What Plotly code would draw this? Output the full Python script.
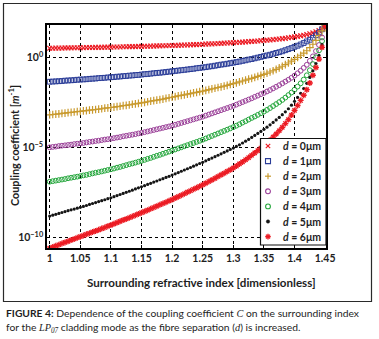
import math
import plotly.graph_objects as go

# ---------------- data ----------------
# surrounding refractive index sample grid (step 0.005 from 1.00 to 1.45)
n_index = [round(1.0 + 0.005 * i, 3) for i in range(91)]

separations_um = [0, 1, 2, 3, 4, 5, 6]

# log10 of the coupling coefficient C [m^-1], one list per fibre separation d
log10_C_d0 = [0.50, 0.50, 0.51, 0.51, 0.51, 0.52, 0.52, 0.52, 0.53, 0.53,
              0.53, 0.53, 0.54, 0.54, 0.54, 0.55, 0.55, 0.55, 0.56, 0.56,
              0.56, 0.57, 0.57, 0.57, 0.58, 0.58, 0.59, 0.59, 0.59, 0.60,
              0.60, 0.61, 0.61, 0.62, 0.62, 0.63, 0.63, 0.64, 0.64, 0.65,
              0.65, 0.66, 0.66, 0.67, 0.68, 0.68, 0.69, 0.70, 0.70, 0.71,
              0.72, 0.73, 0.74, 0.74, 0.75, 0.76, 0.77, 0.78, 0.79, 0.80,
              0.81, 0.82, 0.83, 0.84, 0.85, 0.87, 0.88, 0.89, 0.90, 0.92,
              0.93, 0.95, 0.96, 0.98, 1.00, 1.01, 1.03, 1.05, 1.08, 1.10,
              1.13, 1.16, 1.19, 1.22, 1.26, 1.30, 1.35, 1.41, 1.48, 1.58,
              1.78]
log10_C_d1 = [-1.36, -1.35, -1.34, -1.33, -1.32, -1.30, -1.29, -1.28, -1.27, -1.25,
              -1.24, -1.23, -1.22, -1.20, -1.19, -1.18, -1.16, -1.15, -1.14, -1.12,
              -1.11, -1.10, -1.08, -1.07, -1.05, -1.04, -1.02, -1.01, -0.99, -0.98,
              -0.96, -0.94, -0.93, -0.91, -0.89, -0.87, -0.86, -0.84, -0.82, -0.80,
              -0.78, -0.76, -0.74, -0.72, -0.70, -0.68, -0.66, -0.64, -0.61, -0.59,
              -0.57, -0.55, -0.52, -0.50, -0.47, -0.44, -0.41, -0.39, -0.36, -0.33,
              -0.30, -0.27, -0.24, -0.20, -0.17, -0.13, -0.10, -0.06, -0.02, 0.02,
              0.06, 0.10, 0.14, 0.19, 0.24, 0.28, 0.33, 0.39, 0.45, 0.51,
              0.58, 0.64, 0.71, 0.79, 0.88, 0.97, 1.08, 1.22, 1.38, 1.55,
              1.76]
log10_C_d2 = [-3.20, -3.18, -3.16, -3.14, -3.12, -3.10, -3.08, -3.06, -3.04, -3.02,
              -3.00, -2.98, -2.96, -2.94, -2.92, -2.90, -2.88, -2.86, -2.83, -2.81,
              -2.79, -2.77, -2.74, -2.72, -2.69, -2.67, -2.64, -2.61, -2.59, -2.56,
              -2.53, -2.50, -2.47, -2.44, -2.41, -2.38, -2.35, -2.32, -2.28, -2.25,
              -2.22, -2.19, -2.15, -2.12, -2.09, -2.05, -2.02, -1.98, -1.95, -1.91,
              -1.88, -1.84, -1.80, -1.76, -1.72, -1.68, -1.64, -1.60, -1.56, -1.51,
              -1.47, -1.42, -1.37, -1.32, -1.27, -1.22, -1.17, -1.12, -1.06, -1.01,
              -0.95, -0.89, -0.82, -0.75, -0.67, -0.59, -0.50, -0.41, -0.32, -0.22,
              -0.12, -0.01, 0.11, 0.23, 0.36, 0.53, 0.72, 0.94, 1.20, 1.46,
              1.75]
log10_C_d3 = [-5.00, -4.98, -4.96, -4.93, -4.91, -4.89, -4.87, -4.85, -4.82, -4.80,
              -4.78, -4.76, -4.73, -4.70, -4.68, -4.65, -4.63, -4.60, -4.57, -4.55,
              -4.52, -4.49, -4.46, -4.43, -4.39, -4.36, -4.33, -4.30, -4.27, -4.23,
              -4.20, -4.16, -4.12, -4.08, -4.04, -4.00, -3.96, -3.92, -3.88, -3.84,
              -3.80, -3.75, -3.70, -3.65, -3.60, -3.55, -3.50, -3.45, -3.40, -3.35,
              -3.30, -3.24, -3.18, -3.12, -3.06, -3.00, -2.94, -2.88, -2.82, -2.76,
              -2.70, -2.63, -2.56, -2.49, -2.42, -2.35, -2.28, -2.20, -2.13, -2.05,
              -1.98, -1.90, -1.82, -1.73, -1.64, -1.55, -1.45, -1.35, -1.25, -1.14,
              -1.02, -0.89, -0.75, -0.59, -0.42, -0.20, 0.05, 0.34, 0.68, 1.10,
              1.74]
log10_C_d4 = [-6.91, -6.88, -6.85, -6.82, -6.79, -6.76, -6.72, -6.69, -6.66, -6.63,
              -6.60, -6.56, -6.53, -6.49, -6.45, -6.41, -6.38, -6.34, -6.30, -6.26,
              -6.22, -6.18, -6.13, -6.09, -6.04, -5.99, -5.94, -5.90, -5.85, -5.80,
              -5.75, -5.70, -5.64, -5.59, -5.53, -5.47, -5.42, -5.36, -5.30, -5.24,
              -5.18, -5.12, -5.06, -5.00, -4.94, -4.88, -4.82, -4.76, -4.70, -4.64,
              -4.58, -4.51, -4.44, -4.37, -4.30, -4.23, -4.16, -4.09, -4.02, -3.95,
              -3.88, -3.80, -3.72, -3.63, -3.55, -3.46, -3.37, -3.29, -3.20, -3.11,
              -3.02, -2.92, -2.82, -2.71, -2.60, -2.49, -2.37, -2.24, -2.10, -1.96,
              -1.80, -1.63, -1.45, -1.24, -1.00, -0.72, -0.38, 0.00, 0.38, 0.90,
              1.73]
log10_C_d5 = [-8.82, -8.77, -8.72, -8.67, -8.62, -8.57, -8.52, -8.47, -8.43, -8.38,
              -8.33, -8.28, -8.23, -8.17, -8.12, -8.07, -8.01, -7.96, -7.91, -7.85,
              -7.80, -7.74, -7.68, -7.62, -7.56, -7.50, -7.44, -7.38, -7.31, -7.25,
              -7.19, -7.13, -7.06, -7.00, -6.93, -6.87, -6.80, -6.74, -6.67, -6.61,
              -6.54, -6.47, -6.40, -6.33, -6.26, -6.19, -6.12, -6.05, -5.97, -5.90,
              -5.83, -5.75, -5.67, -5.60, -5.52, -5.44, -5.36, -5.28, -5.20, -5.12,
              -5.04, -4.95, -4.86, -4.76, -4.66, -4.56, -4.45, -4.34, -4.23, -4.12,
              -4.00, -3.88, -3.75, -3.62, -3.48, -3.34, -3.19, -3.03, -2.86, -2.66,
              -2.45, -2.23, -2.00, -1.74, -1.45, -1.12, -0.75, -0.35, 0.10, 0.70,
              1.72]
log10_C_d6 = [-10.60, -10.54, -10.47, -10.41, -10.34, -10.28, -10.22, -10.15, -10.09, -10.02,
              -9.96, -9.90, -9.83, -9.77, -9.70, -9.64, -9.58, -9.51, -9.45, -9.38,
              -9.32, -9.25, -9.18, -9.11, -9.04, -8.98, -8.91, -8.84, -8.77, -8.70,
              -8.63, -8.56, -8.49, -8.41, -8.34, -8.27, -8.19, -8.12, -8.05, -7.97,
              -7.90, -7.82, -7.74, -7.66, -7.58, -7.49, -7.41, -7.33, -7.25, -7.16,
              -7.08, -6.99, -6.90, -6.81, -6.72, -6.62, -6.53, -6.44, -6.34, -6.25,
              -6.15, -6.04, -5.92, -5.81, -5.69, -5.57, -5.44, -5.31, -5.18, -5.04,
              -4.90, -4.75, -4.60, -4.43, -4.26, -4.08, -3.89, -3.68, -3.46, -3.21,
              -2.95, -2.68, -2.40, -2.11, -1.80, -1.43, -1.00, -0.57, -0.10, 0.55,
              1.71]

x_tick_vals = [1.0, 1.05, 1.1, 1.15, 1.2, 1.25, 1.3, 1.35, 1.4, 1.45]
x_tick_text = ["1", "1.05", "1.1", "1.15", "1.2", "1.25", "1.3", "1.35", "1.4", "1.45"]
y_tick_vals = [1e-10, 1e-5, 1e0]
y_tick_text = ["10<sup>\u221210</sup>", "10<sup>\u22125</sup>", "10<sup>0</sup>"]

series_logC = [log10_C_d0, log10_C_d1, log10_C_d2, log10_C_d3,
               log10_C_d4, log10_C_d5, log10_C_d6]

# ---------------- styles ----------------
W, H = 379, 339
ML, MR, MT, MB = 47, 53, 25, 91
PW, PH = W - ML - MR, H - MT - MB


def px_x(px):
    return (px - ML) / PW


def px_y(py):
    return 1 - (py - MT) / PH


styles = [
    dict(symbol="x-thin-open", size=4.8, color="#ec1c24", lw=1.2),
    dict(symbol="square-open", size=4.8, color="#2b3d98", lw=1.0),
    dict(symbol="cross-thin-open", size=5.5, color="#c99a2e", lw=1.2),
    dict(symbol="circle-open", size=4.8, color="#9a3f98", lw=1.0),
    dict(symbol="circle-open", size=4.8, color="#23a63b", lw=1.0),
    dict(symbol="circle", size=3.2, color="#151515", lw=0),
    dict(symbol="asterisk-open", size=5, color="#ec1c24", lw=1.3),
]

FONT = "Lato, Open Sans, sans-serif"
TXT = "#1e1e1e"

fig = go.Figure()

for logs, st in zip(series_logC, styles):
    fig.add_trace(go.Scatter(
        x=n_index,
        y=[10 ** v for v in logs],
        mode="markers",
        marker=dict(symbol=st["symbol"], size=st["size"], color=st["color"],
                    line=dict(color=st["color"], width=st["lw"])),
        showlegend=False,
        hoverinfo="skip",
    ))

shapes = [
    # outer figure frame
    dict(type="rect", xref="paper", yref="paper",
         x0=px_x(3.5), x1=px_x(371.5), y0=px_y(301.5), y1=px_y(3.5),
         line=dict(color="#2a2a2a", width=1.2), fillcolor="rgba(0,0,0,0)", layer="above"),
    # legend box (opaque, over the grid and the curves)
    dict(type="rect", xref="paper", yref="paper",
         x0=px_x(260.5), x1=px_x(326), y0=px_y(245), y1=px_y(138.5),
         line=dict(color="#111111", width=1.2), fillcolor="white", layer="above"),
]


def seg(x0, y0, x1, y1, color, w):
    return dict(type="line", xref="paper", yref="paper", layer="above",
                x0=px_x(x0), y0=px_y(y0), x1=px_x(x1), y1=px_y(y1),
                line=dict(color=color, width=w))


def circ(cx, cy, r, color, w, fill):
    return dict(type="circle", xref="paper", yref="paper", layer="above",
                x0=px_x(cx - r), x1=px_x(cx + r), y0=px_y(cy + r), y1=px_y(cy - r),
                line=dict(color=color, width=w), fillcolor=fill)


# legend sample symbols
leg_rows_py = [146 + 15.1 * k for k in range(len(separations_um))]
LX = 268
for k, st in enumerate(styles):
    cy = leg_rows_py[k]
    c = st["color"]
    s = st["symbol"]
    if s.startswith("x-thin"):
        shapes += [seg(LX - 2.2, cy - 2.2, LX + 2.2, cy + 2.2, c, 1.2),
                   seg(LX - 2.2, cy + 2.2, LX + 2.2, cy - 2.2, c, 1.2)]
    elif s.startswith("square"):
        shapes.append(dict(type="rect", xref="paper", yref="paper", layer="above",
                           x0=px_x(LX - 2.5), x1=px_x(LX + 2.5),
                           y0=px_y(cy + 2.5), y1=px_y(cy - 2.5),
                           line=dict(color=c, width=1.1), fillcolor="rgba(0,0,0,0)"))
    elif s.startswith("cross-thin"):
        shapes += [seg(LX - 3, cy, LX + 3, cy, c, 1.2),
                   seg(LX, cy - 3, LX, cy + 3, c, 1.2)]
    elif s == "circle-open":
        shapes.append(circ(LX, cy, 2.4, c, 1.1, "rgba(0,0,0,0)"))
    elif s == "circle":
        shapes.append(circ(LX, cy, 1.7, c, 0.5, c))
    elif s.startswith("asterisk"):
        for ang in (0, 45, 90, 135):
            dx = 2.8 * math.cos(math.radians(ang))
            dy = 2.8 * math.sin(math.radians(ang))
            shapes.append(seg(LX - dx, cy - dy, LX + dx, cy + dy, c, 1.4))

annotations = []
for k, d in enumerate(separations_um):
    annotations.append(dict(
        x=px_x(281), y=px_y(leg_rows_py[k]), xref="paper", yref="paper",
        xanchor="left", yanchor="middle", showarrow=False,
        text=f"<b><i>d</i> = {d}\u03bcm</b>",
        font=dict(family=FONT, size=10.5, color=TXT),
    ))

# axis titles
annotations.append(dict(
    x=px_x(14), y=px_y(146), xref="paper", yref="paper",
    xanchor="center", yanchor="middle", showarrow=False, textangle=-90,
    text="<b>Coupling coefficient [<i>m</i><sup>-1</sup>]</b>",
    font=dict(family=FONT, size=10.8, color=TXT),
))
annotations.append(dict(
    x=px_x(201.5), y=px_y(282), xref="paper", yref="paper",
    xanchor="center", yanchor="middle", showarrow=False,
    text="<b>Surrounding refractive index [dimensionless]</b>",
    font=dict(family=FONT, size=11.6, color=TXT),
))

# caption
SERIF = "'Liberation Serif', 'DejaVu Serif', serif"
annotations.append(dict(
    x=px_x(4), y=px_y(313), xref="paper", yref="paper",
    xanchor="left", yanchor="middle", showarrow=False,
    text=("<b>FIGURE 4:</b> Dependence of the coupling coefficient "
          f"<span style=\"font-family:{SERIF}\"><i>C</i></span> on the surrounding index"),
    font=dict(family=FONT, size=10.3, color=TXT),
))
annotations.append(dict(
    x=px_x(4), y=px_y(327.5), xref="paper", yref="paper",
    xanchor="left", yanchor="middle", showarrow=False,
    text=(f"for the <span style=\"font-family:{SERIF}\"><i>LP</i><sub><i>07</i></sub></span>"
          " cladding mode as the fibre separation "
          f"(<span style=\"font-family:{SERIF}\"><i>d</i></span>) is increased."),
    font=dict(family=FONT, size=10.3, color=TXT),
))

axis_common = dict(
    showline=True, linecolor="black", linewidth=1.5, mirror="ticks",
    ticks="inside", ticklen=3, tickcolor="black", tickwidth=1,
    showgrid=True, gridcolor="black", gridwidth=0.8, griddash="dot",
    zeroline=False,
    tickfont=dict(family=FONT, size=10.5, color=TXT, weight="bold"),
)

fig.update_layout(
    width=W, height=H,
    margin=dict(l=ML, r=MR, t=MT, b=MB),
    paper_bgcolor="white", plot_bgcolor="white",
    showlegend=False,
    xaxis=dict(range=[0.9956, 1.4514], tickvals=x_tick_vals, ticktext=x_tick_text,
               **axis_common),
    yaxis=dict(type="log", range=[-10.59, 1.79], tickvals=y_tick_vals,
               ticktext=y_tick_text, **axis_common),
    annotations=annotations,
    shapes=shapes,
)

fig.write_html(
    "out.html",
    config={"displayModeBar": False},
    post_script="document.body.style.margin='0';document.body.style.overflow='hidden';",
)
